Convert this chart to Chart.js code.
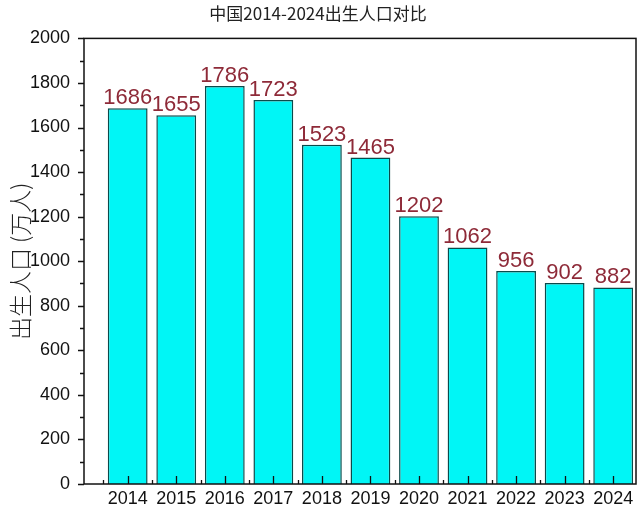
<!DOCTYPE html>
<html>
<head>
<meta charset="utf-8">
<script src="https://cdn.jsdelivr.net/npm/chart.js@4"></script>
<style>
html,body{margin:0;padding:0;background:#fff;}
#wrap{width:640px;height:511px;}
</style>
</head>
<body>
<div id="wrap"><canvas id="c" width="640" height="511"></canvas></div>
<script>
const years = [2014, 2015, 2016, 2017, 2018, 2019, 2020, 2021, 2022, 2023, 2024];
const births = [1686, 1655, 1786, 1723, 1523, 1465, 1202, 1062, 956, 902, 882];
const yTicks = [0, 200, 400, 600, 800, 1000, 1200, 1400, 1600, 1800, 2000];
const titleText = '中国2014-2024出生人口对比';
const yTitle = '出生人口 (万人)';

const frameTicks = {
  id: 'frameTicks',
  afterDraw(chart) {
    const ctx = chart.ctx, a = chart.chartArea;
    const xs = chart.scales.x, ys = chart.scales.y;
    ctx.save();
    ctx.strokeStyle = '#111';
    ctx.lineWidth = 1.5;
    ctx.strokeRect(a.left, a.top, a.right - a.left, a.bottom - a.top);
    ctx.lineWidth = 1.3;
    ctx.beginPath();
    for (let v = 0; v <= 2000; v += 100) {
      const py = Math.round(ys.getPixelForValue(v)) + 0.5;
      const len = (v % 200 === 0) ? 6 : 4;
      ctx.moveTo(a.left, py); ctx.lineTo(a.left - len, py);
    }
    years.forEach(yr => {
      const px = Math.round(xs.getPixelForValue(yr)) + 0.5;
      ctx.moveTo(px, a.bottom); ctx.lineTo(px, a.bottom - 8);
      const pb = Math.round(xs.getPixelForValue(yr - 0.5)) + 0.5;
      if (pb > a.left + 2) { ctx.moveTo(pb, a.bottom); ctx.lineTo(pb, a.bottom - 4); }
    });
    ctx.stroke();
    ctx.restore();
  }
};

const valueLabels = {
  id: 'valueLabels',
  afterDatasetsDraw(chart) {
    const ctx = chart.ctx;
    const meta = chart.getDatasetMeta(0);
    ctx.save();
    ctx.font = '22px "Liberation Sans", Arial, sans-serif';
    ctx.fillStyle = '#8e2a38';
    ctx.textAlign = 'center';
    ctx.textBaseline = 'alphabetic';
    meta.data.forEach((bar, i) => {
      ctx.fillText(String(births[i]), bar.x, bar.y - 4);
    });
    ctx.restore();
  }
};

new Chart(document.getElementById('c'), {
  type: 'bar',
  data: {
    datasets: [{
      data: years.map((y, i) => ({x: y, y: births[i]})),
      backgroundColor: '#00f6f6',
      borderColor: '#0b4a4a',
      borderWidth: 1.5,
      barPercentage: 0.82,
      categoryPercentage: 1.0
    }]
  },
  options: {
    responsive: false,
    animation: false,
    layout: {padding: {top: 0, right: 4, bottom: 0, left: 0}},
    plugins: {
      legend: {display: false},
      tooltip: {enabled: false},
      title: {
        display: true,
        text: titleText,
        color: '#222',
        font: {family: '"Noto Sans CJK SC", "Liberation Sans", sans-serif', size: 17, weight: 'normal'},
        padding: {top: 3, bottom: 15}
      }
    },
    scales: {
      x: {
        type: 'linear',
        offset: false,
        min: 2013.1,
        max: 2024.47,
        grid: {display: false, drawTicks: false, offset: false},
        border: {display: false},
        afterBuildTicks: s => { s.ticks = years.map(v => ({value: v})); },
        afterFit: s => { s.height = 27; },
        ticks: {
          autoSkip: false,
          maxRotation: 0,
          padding: 4,
          color: '#111',
          font: {family: '"Liberation Sans", Arial, sans-serif', size: 18},
          callback: v => String(v)
        }
      },
      y: {
        min: 0,
        max: 2000,
        grid: {display: false, drawTicks: false},
        border: {display: false},
        afterBuildTicks: s => { s.ticks = yTicks.map(v => ({value: v})); },
        afterFit: s => { s.width = 84; },
        ticks: {
          padding: 14,
          color: '#111',
          font: {family: '"Liberation Sans", Arial, sans-serif', size: 18},
          callback: v => String(v)
        },
        title: {
          display: true,
          text: yTitle,
          color: '#222',
          font: {family: '"Noto Sans CJK SC", sans-serif', size: 23, weight: 300},
          padding: {top: 6, bottom: 0}
        }
      }
    }
  },
  plugins: [frameTicks, valueLabels]
});
</script>
</body>
</html>
